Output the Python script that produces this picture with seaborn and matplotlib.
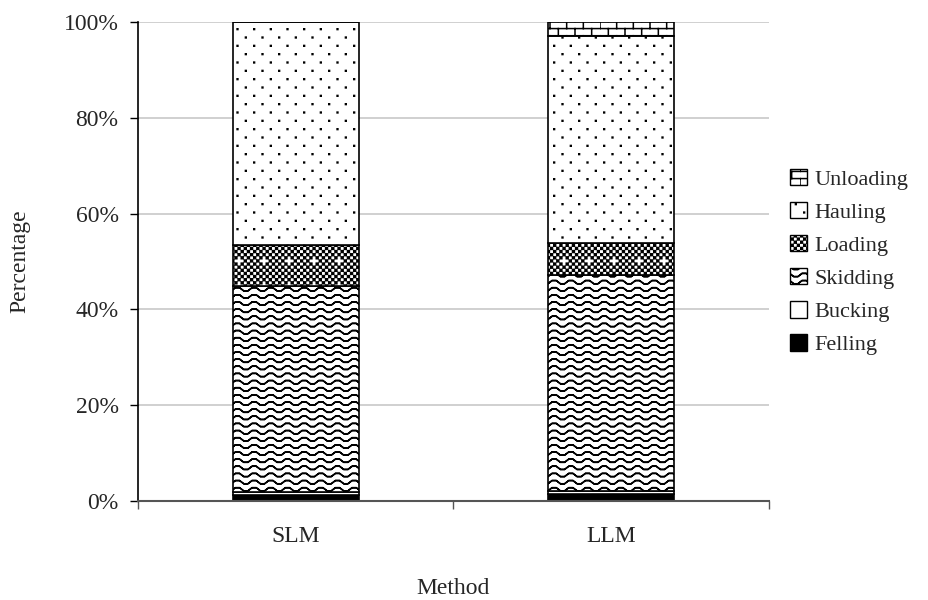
import warnings
import numpy as np
import pandas as pd
import matplotlib
matplotlib.use("Agg")
import matplotlib.pyplot as plt
import matplotlib.hatch as mhatch
from matplotlib.path import Path
from matplotlib.patches import Patch
import seaborn as sns

warnings.filterwarnings("ignore")

# data: share of each work phase (%) per method
methods = ["SLM", "LLM"]
phases = ["Felling", "Bucking", "Skidding", "Loading", "Hauling", "Unloading"]
felling = [1.2, 1.4]
bucking = [0.6, 0.7]
skidding = [43.1, 45.1]
loading = [8.5, 6.7]
hauling = [46.6, 43.2]
unloading = [0.0, 2.9]


# extra hatch patterns (Excel look-alikes)
class WaveHatch(mhatch.HatchPatternBase):
    def __init__(self, hatch, density):
        self.rows = 14 if "~" in hatch else 0
        self.per_row = 6 * 8 + 1
        self.num_vertices = self.rows * self.per_row * 2

    def set_vertices_and_codes(self, vertices, codes):
        xs = np.linspace(0, 1, self.per_row)
        wave = 0.016 * np.clip(1.6 * np.sin(2 * np.pi * 6 * xs), -1, 1)
        k = 0
        for r in range(self.rows):
            y = (r + 0.5) / self.rows
            pts = np.column_stack([xs, y + wave])
            pts = np.vstack([pts, pts[::-1]])
            n = len(pts)
            vertices[k:k + n] = pts
            codes[k:k + n] = Path.LINETO
            codes[k] = Path.MOVETO
            codes[k + self.per_row] = Path.MOVETO
            k += n


class DotHatch(mhatch.HatchPatternBase):
    def __init__(self, hatch, density):
        self.pts = []
        if ":" in hatch:
            rows = 12
            for r in range(rows):
                off = 0.0 if r % 2 == 0 else 1 / 12
                for c in range(6):
                    self.pts.append(((c + 0.25) / 6 + off, (r + 0.5) / rows))
        self.num_vertices = len(self.pts) * 5

    def set_vertices_and_codes(self, vertices, codes):
        s = 0.004
        k = 0
        for x, y in self.pts:
            vertices[k:k + 5] = [(x - s, y - s), (x + s, y - s), (x + s, y + s),
                                 (x - s, y + s), (x - s, y - s)]
            codes[k:k + 5] = [Path.MOVETO, Path.LINETO, Path.LINETO,
                              Path.LINETO, Path.CLOSEPOLY]
            k += 5


class CheckHatch(mhatch.HatchPatternBase):
    def __init__(self, hatch, density):
        self.pts = []
        if "#" in hatch:
            n = 32
            for r in range(n):
                for c in range(n):
                    if (r + c) % 2 == 0 and not (r % 8 == 4 and c % 8 == 4):
                        self.pts.append((c / n, r / n, 1 / n))
        self.num_vertices = len(self.pts) * 5

    def set_vertices_and_codes(self, vertices, codes):
        k = 0
        for x, y, s in self.pts:
            m = s * 0.2
            vertices[k:k + 5] = [(x + m, y + m), (x + s - m, y + m), (x + s - m, y + s - m),
                                 (x + m, y + s - m), (x + m, y + m)]
            codes[k:k + 5] = [Path.MOVETO, Path.LINETO, Path.LINETO,
                              Path.LINETO, Path.CLOSEPOLY]
            k += 5


class BrickHatch(mhatch.HatchPatternBase):
    def __init__(self, hatch, density):
        self.segs = []
        if "=" in hatch:
            rows = 14
            for r in range(rows):
                y0, y1 = r / rows, (r + 1) / rows
                self.segs.append(((0, y0), (1, y0)))
                off = 0 if r % 2 == 0 else 1 / 12
                for c in range(6):
                    x = c / 6 + off
                    self.segs.append(((x, y0), (x, y1)))
        self.num_vertices = len(self.segs) * 2

    def set_vertices_and_codes(self, vertices, codes):
        for i, (a, b) in enumerate(self.segs):
            vertices[2 * i] = a
            vertices[2 * i + 1] = b
            codes[2 * i] = Path.MOVETO
            codes[2 * i + 1] = Path.LINETO


mhatch._hatch_types.extend([WaveHatch, DotHatch, CheckHatch, BrickHatch])

styles = {
    "Felling": ("black", None),
    "Bucking": ("white", None),
    "Skidding": ("white", "~"),
    "Loading": ("white", "#"),
    "Hauling": ("white", ":"),
    "Unloading": ("white", "="),
}

df = pd.DataFrame({"Method": methods, "Felling": felling, "Bucking": bucking,
                   "Skidding": skidding, "Loading": loading,
                   "Hauling": hauling, "Unloading": unloading})

sns.set_style("white")
plt.rcParams["font.family"] = ["Liberation Serif", "DejaVu Serif"]
plt.rcParams["hatch.linewidth"] = 1.1
plt.rcParams["hatch.color"] = "black"

fig = plt.figure(figsize=(9.29, 6.0), dpi=100)
ax = fig.add_axes([138 / 929, 99 / 600, 631 / 929, 479 / 600])

bottom = np.zeros(len(methods))
for ph in phases:
    fc, h = styles[ph]
    sns.barplot(data=df, x="Method", y=ph, order=methods, bottom=bottom,
                color=fc, saturation=1, width=0.4, hatch=h,
                edgecolor="black", linewidth=1.2, ax=ax, zorder=3)
    bottom = bottom + df[ph].values

ax.set_ylim(0, 100)
ax.set_xlim(-0.5, 1.5)
ax.set_yticks([0, 20, 40, 60, 80, 100])
ax.set_yticklabels([f"{v}%" for v in [0, 20, 40, 60, 80, 100]], fontsize=17)
ax.yaxis.grid(True, color="#c8c8c8", linewidth=1.2, zorder=0)
ax.set_axisbelow(True)

ax.set_xticks([-0.5, 0.5, 1.5])
ax.set_xticklabels([])
ax.set_xticks([0, 1], minor=True)
ax.set_xticklabels(methods, minor=True, fontsize=17)
ax.tick_params(axis="x", which="major", direction="out", length=6, width=1, color="#555555", bottom=True)
ax.tick_params(axis="x", which="minor", length=0, pad=18)
ax.tick_params(axis="y", direction="out", length=6, width=1, color="black", left=True, pad=8)

for s in ["top", "right"]:
    ax.spines[s].set_visible(False)
ax.spines["left"].set_color("black")
ax.spines["left"].set_linewidth(1.2)
ax.spines["bottom"].set_color("#555555")
ax.spines["bottom"].set_linewidth(1.5)
ax.spines["bottom"].set_zorder(4)

ax.set_xlabel("Method", fontsize=17, labelpad=22)
ax.set_ylabel("Percentage", fontsize=17, labelpad=24)

handles = [Patch(facecolor=styles[p][0], hatch=styles[p][1], edgecolor="black",
                 linewidth=1.0, label=p) for p in phases][::-1]
fig.legend(handles=handles, loc="center left", bbox_to_anchor=(781 / 929, 338 / 600),
           frameon=False, fontsize=16, handlelength=0.75, handleheight=0.75,
           handletextpad=0.35, labelspacing=0.55, borderaxespad=0)

fig.savefig("out.png", dpi=100)
